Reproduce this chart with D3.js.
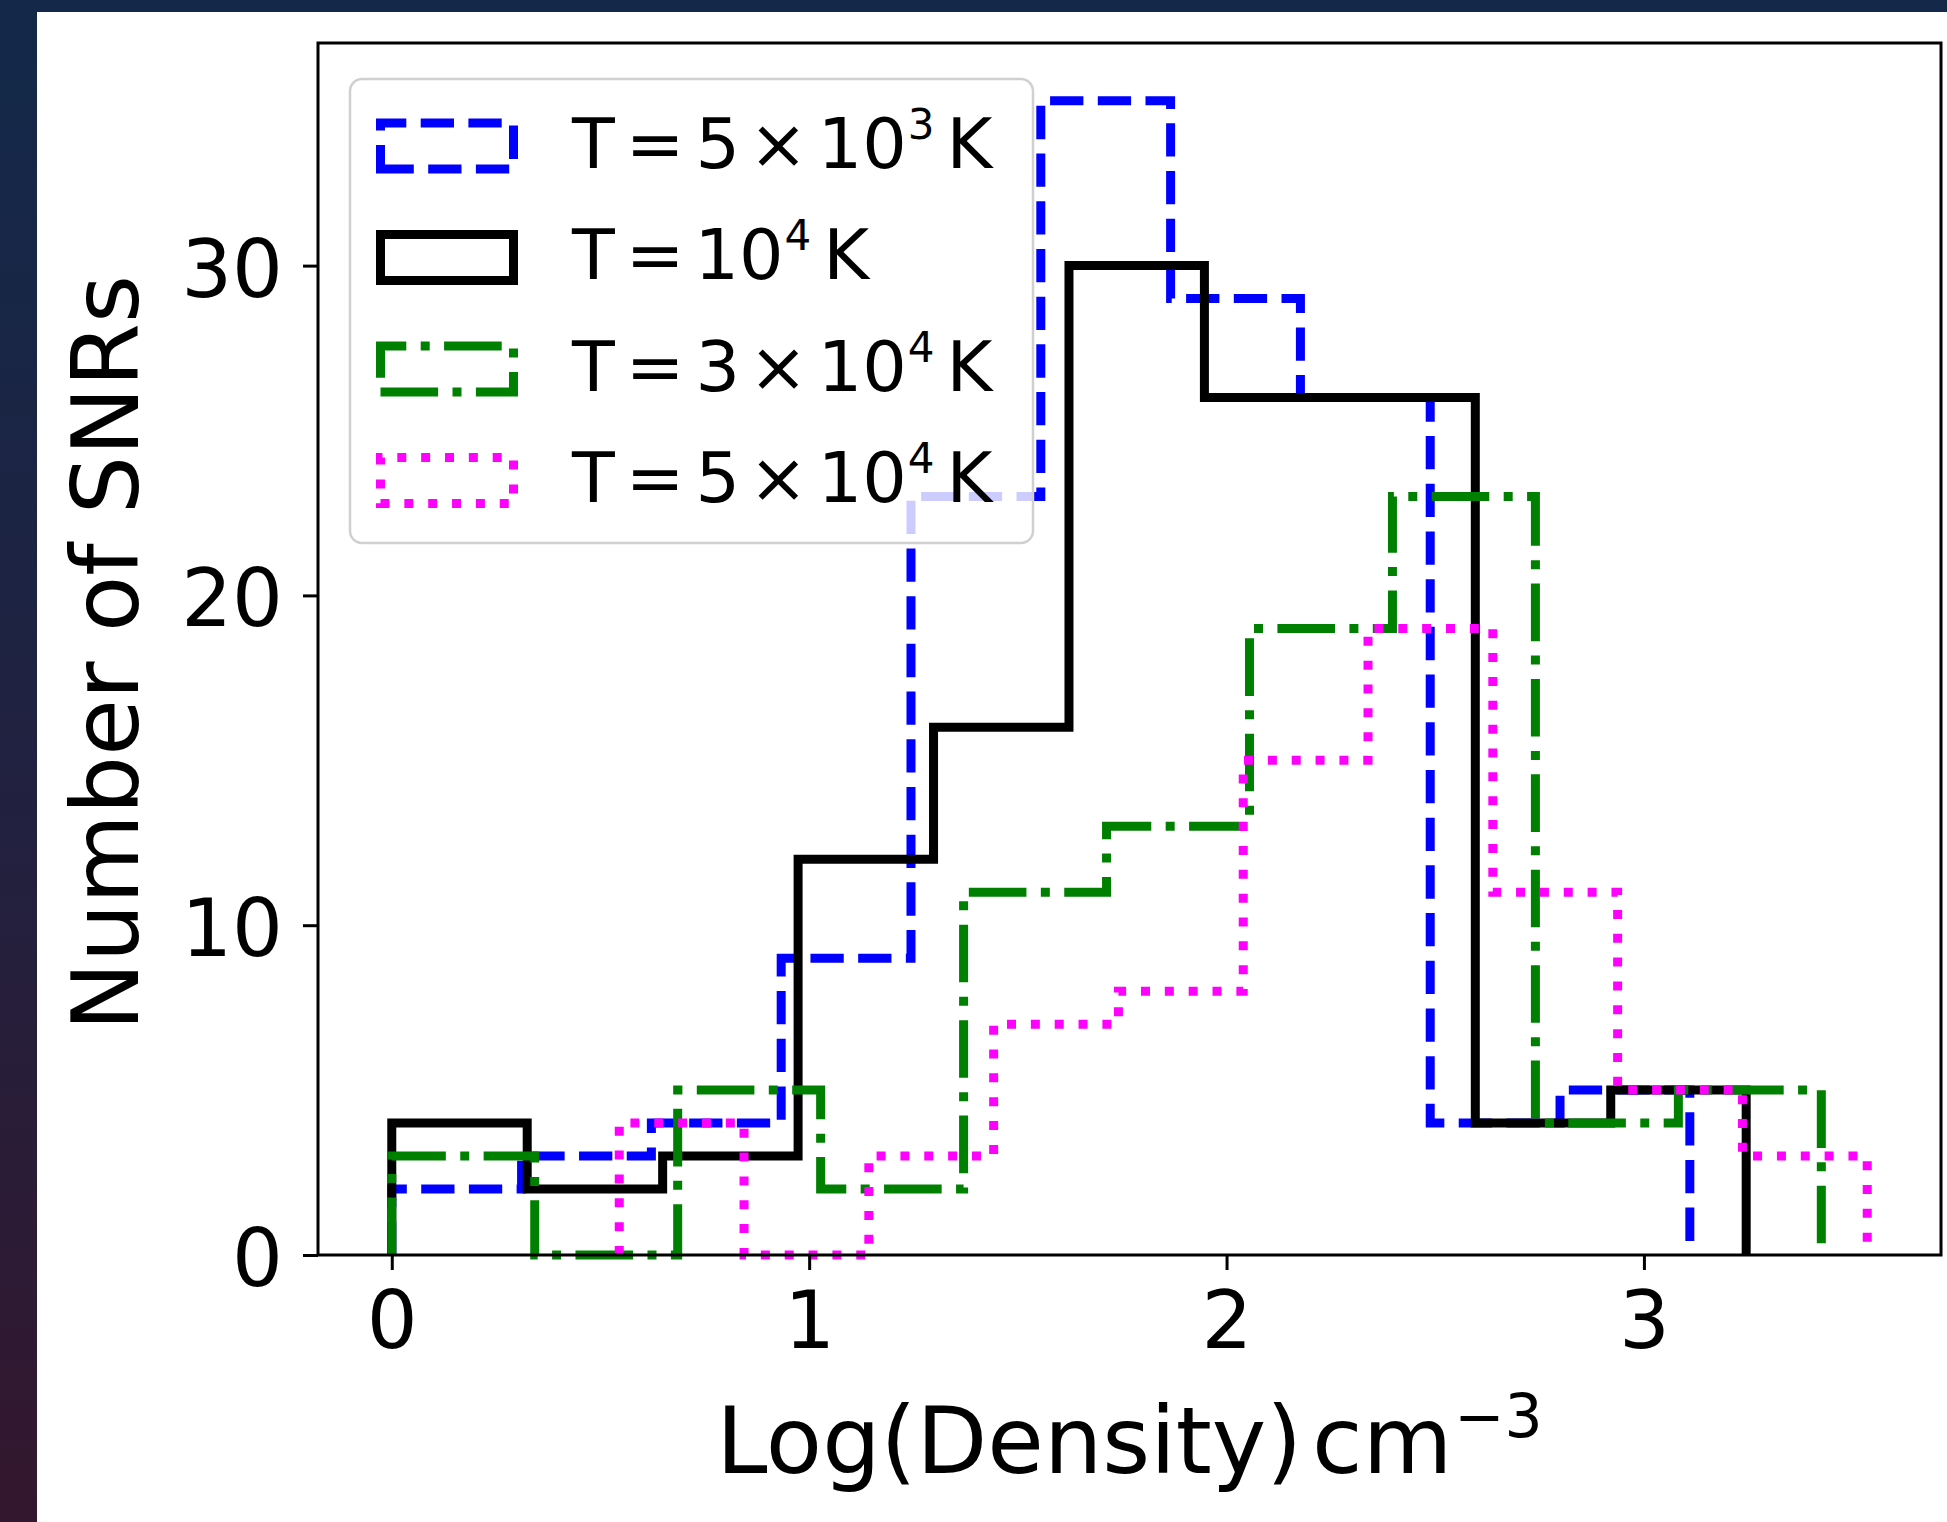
<!DOCTYPE html>
<html>
<head>
<meta charset="utf-8">
<script src="https://cdn.jsdelivr.net/npm/d3@7"></script>
<style>
  html, body { margin: 0; padding: 0; background: #fff; }
  svg { display: block; font-family: "DejaVu Sans", sans-serif; }
</style>
</head>
<body>
<div id="chart"></div>
<script>
// histogram bins (edges) and counts, one pair per temperature
const blueEdges = [0, 0.311, 0.622, 0.933, 1.244, 1.555, 1.866, 2.177, 2.488, 2.799, 3.11];
const blueCounts = [2, 3, 4, 9, 23, 35, 29, 26, 4, 5];
const blackEdges = [0, 0.3245, 0.649, 0.9735, 1.298, 1.6225, 1.947, 2.2715, 2.596, 2.9205, 3.245];
const blackCounts = [4, 2, 3, 12, 16, 30, 26, 26, 4, 5];
const greenEdges = [0, 0.3425, 0.685, 1.0275, 1.37, 1.7125, 2.055, 2.3975, 2.74, 3.0825, 3.425];
const greenCounts = [3, 0, 5, 2, 11, 13, 19, 23, 4, 5];
const magentaEdges = [0.545, 0.844, 1.143, 1.442, 1.741, 2.04, 2.339, 2.638, 2.937, 3.236, 3.535];
const magentaCounts = [4, 0, 3, 7, 8, 15, 19, 11, 5, 3];

const labelMantissa = ["5", "", "3", "5"];
const labelExponent = ["3", "4", "4", "4"];
const xTicks = [0, 1, 2, 3];
const yTicks = [0, 10, 20, 30];

const W = 1947, H = 1522;
const lw = 9;
const series = [
  { edges: blueEdges, counts: blueCounts, color: "#0000ff", dash: [3.7 * lw, 1.6 * lw] },
  { edges: blackEdges, counts: blackCounts, color: "#000000", dash: null },
  { edges: greenEdges, counts: greenCounts, color: "#008000", dash: [6.4 * lw, 1.6 * lw, 1 * lw, 1.6 * lw] },
  { edges: magentaEdges, counts: magentaCounts, color: "#ff00ff", dash: [1 * lw, 1.65 * lw] }
];

const svg = d3.select("#chart").append("svg")
  .attr("width", W)
  .attr("height", H);

// slide background behind the figure
const defs = svg.append("defs");
const grad = defs.append("linearGradient").attr("id", "side")
  .attr("x1", 0).attr("y1", 0).attr("x2", 0).attr("y2", 1);
grad.append("stop").attr("offset", "0%").attr("stop-color", "#13294a");
grad.append("stop").attr("offset", "55%").attr("stop-color", "#22213f");
grad.append("stop").attr("offset", "100%").attr("stop-color", "#34172e");
svg.append("rect").attr("width", W).attr("height", H).attr("fill", "#fff");
svg.append("rect").attr("width", 37).attr("height", H).attr("fill", "url(#side)");
svg.append("rect").attr("width", W).attr("height", 12).attr("fill", "#14294a");

const plot = { left: 318, top: 43, right: 1941, bottom: 1255 };

const allEdges = series.flatMap(s => s.edges);
const xMin = d3.min(allEdges), xMax = d3.max(allEdges);
const xPad = (xMax - xMin) * 0.05;
const x = d3.scaleLinear()
  .domain([xMin - xPad, xMax + xPad])
  .range([plot.left, plot.right]);
const yMax = d3.max(series, s => d3.max(s.counts)) * 1.05;
const y = d3.scaleLinear()
  .domain([0, yMax])
  .range([plot.bottom, plot.top]);

// step outlines (open at the baseline, like histtype='step')
const line = d3.line().x(d => x(d[0])).y(d => y(d[1]));
function stepPoints(s) {
  const pts = [[s.edges[0], 0]];
  s.counts.forEach((c, i) => {
    pts.push([s.edges[i], c]);
    pts.push([s.edges[i + 1], c]);
  });
  pts.push([s.edges[s.edges.length - 1], 0]);
  return pts;
}

const gPlot = svg.append("g");
series.forEach(s => {
  gPlot.append("path")
    .attr("d", line(stepPoints(s)))
    .attr("fill", "none")
    .attr("stroke", s.color)
    .attr("stroke-width", lw)
    .attr("stroke-linejoin", "miter")
    .attr("stroke-linecap", "butt")
    .attr("stroke-dasharray", s.dash ? s.dash.join(",") : null);
});

// axes
const xAxis = svg.append("g")
  .attr("transform", `translate(0,${plot.bottom})`)
  .call(d3.axisBottom(x).tickValues(xTicks).tickFormat(d3.format("d")).tickSize(15).tickSizeOuter(0).tickPadding(21));
const yAxis = svg.append("g")
  .attr("transform", `translate(${plot.left},0)`)
  .call(d3.axisLeft(y).tickValues(yTicks).tickFormat(d3.format("d")).tickSize(15).tickSizeOuter(0).tickPadding(20));
[xAxis, yAxis].forEach(a => {
  a.select(".domain").remove();
  a.selectAll(".tick line").attr("stroke", "#000").attr("stroke-width", 3);
  a.selectAll(".tick text")
    .attr("fill", "#000")
    .style("font-family", "'DejaVu Sans', sans-serif")
    .style("font-size", "80px");
});
yAxis.selectAll(".tick text").attr("dy", "0.38em");

svg.append("rect")
  .attr("x", plot.left).attr("y", plot.top)
  .attr("width", plot.right - plot.left)
  .attr("height", plot.bottom - plot.top)
  .attr("fill", "none")
  .attr("stroke", "#000")
  .attr("stroke-width", 3);

// axis labels
svg.append("text")
  .attr("transform", `translate(138,${(plot.top + plot.bottom) / 2 + 4}) rotate(-90)`)
  .attr("text-anchor", "middle")
  .attr("font-size", 92)
  .text("Number of SNRs");

const xl = svg.append("text")
  .attr("x", (plot.left + plot.right) / 2)
  .attr("y", 1473)
  .attr("text-anchor", "middle")
  .attr("font-size", 92);
xl.append("tspan").text("Log(Density)");
xl.append("tspan").attr("dx", 10).text("cm");
xl.append("tspan").attr("font-size", 60).attr("dy", -36).attr("dx", 2).text("\u22123");

// legend
const leg = svg.append("g");
leg.append("rect")
  .attr("x", 350).attr("y", 79)
  .attr("width", 683).attr("height", 464)
  .attr("rx", 12)
  .attr("fill", "rgba(255,255,255,0.8)")
  .attr("stroke", "#d0d0d0")
  .attr("stroke-width", 2.5);

const rowY = d3.scaleLinear().domain([0, 3]).range([146, 480.5]);
series.forEach((s, i) => {
  const cy = rowY(i);
  const x0 = 380.5, x1 = 513.5, y0 = cy - 23, y1 = cy + 23;
  leg.append("path")
    .attr("d", `M${x0},${y1}L${x1},${y1}L${x1},${y0}L${x0},${y0}Z`)
    .attr("fill", "none")
    .attr("stroke", s.color)
    .attr("stroke-width", lw)
    .attr("stroke-linejoin", "miter")
    .attr("stroke-dasharray", s.dash ? s.dash.join(",") : null);

  const t = leg.append("text")
    .attr("x", 572)
    .attr("y", cy + 21.5)
    .attr("font-size", 70);
  t.append("tspan").text("T");
  t.append("tspan").attr("dx", 11).text("=");
  if (labelMantissa[i]) {
    t.append("tspan").attr("dx", 11).text(labelMantissa[i]);
    t.append("tspan").attr("dx", 9).text("\u00d7");
  }
  t.append("tspan").attr("dx", 10).text("10");
  t.append("tspan").attr("font-size", 42).attr("dy", -29).attr("dx", 1).text(labelExponent[i]);
  t.append("tspan").attr("dy", 29).attr("dx", 12).text("K");
});
</script>
</body>
</html>
